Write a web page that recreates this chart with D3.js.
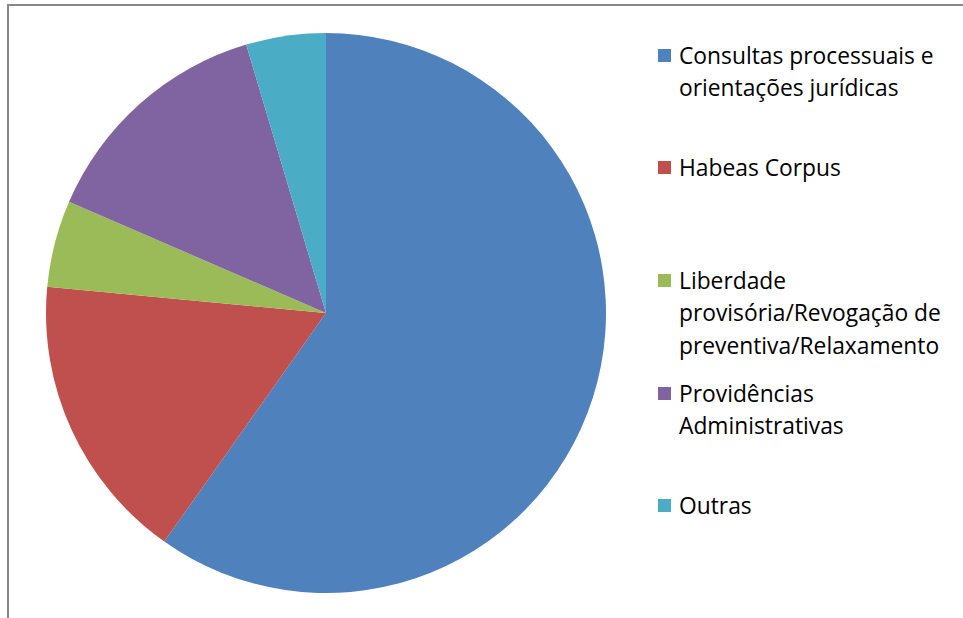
<!DOCTYPE html>
<html>
<head>
<meta charset="utf-8">
<script src="https://cdn.jsdelivr.net/npm/d3@7"></script>
<style>
  html, body { margin: 0; padding: 0; background: #fff; }
  svg { display: block; }
</style>
</head>
<body>
<svg id="chart" width="963" height="618"></svg>
<script>
// Atendimentos por tipo (percentual)
const categories = [
  ["Consultas processuais e", "orientações jurídicas"],
  ["Habeas Corpus"],
  ["Liberdade", "provisória/Revogação de", "preventiva/Relaxamento"],
  ["Providências", "Administrativas"],
  ["Outras"]
];
const values = [59.8, 16.7, 5.0, 13.9, 4.6];
const colors = ["#4f81bd", "#c0504d", "#9bbb59", "#8064a2", "#4bacc6"];
// vertical centre of the first text line of each legend entry
const legendRows = [56, 168, 281, 394, 506];

const svg = d3.select("#chart");

// chart frame
svg.append("path")
  .attr("d", "M8,620 L8,5 L965,5")
  .attr("fill", "none")
  .attr("stroke", "#888")
  .attr("stroke-width", 2);

const cx = 326, cy = 313, r = 280;
const pie = d3.pie().sort(null).value(d => d)(values);
const arc = d3.arc().innerRadius(0).outerRadius(r);

svg.append("g")
  .attr("transform", `translate(${cx},${cy})`)
  .selectAll("path")
  .data(pie)
  .join("path")
  .attr("d", arc)
  .attr("fill", (d, i) => colors[i]);

const legend = svg.append("g");
const lineH = 32.5;
categories.forEach((lines, i) => {
  const y0 = legendRows[i];
  legend.append("rect")
    .attr("x", 658).attr("y", y0 - 7)
    .attr("width", 13).attr("height", 13)
    .attr("fill", colors[i]);
  lines.forEach((t, j) => {
    legend.append("text")
      .attr("x", 679)
      .attr("y", y0 + j * lineH)
      .attr("dy", "0.35em")
      .attr("font-family", "'Open Sans', sans-serif")
      .attr("font-size", 22.8)
      .attr("fill", "#000")
      .text(t);
  });
});
</script>
</body>
</html>
